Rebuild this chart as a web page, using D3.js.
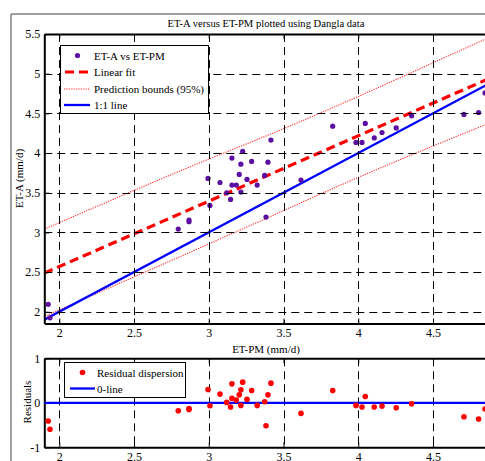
<!DOCTYPE html>
<html>
<head>
<meta charset="utf-8">
<script src="https://cdn.jsdelivr.net/npm/d3@7/dist/d3.min.js"></script>
<style>
  html, body { margin: 0; padding: 0; background: #fff; }
  svg { display: block; }
  text { font-family: "Liberation Serif", "Times New Roman", serif; fill: #000; }
</style>
</head>
<body>
<svg id="chart" width="485" height="461"></svg>
<script>
// Observed daily ET: Penman-Monteith estimate vs. measured (Dangla)
const etPM = [1.926, 1.938, 2.796, 2.868, 2.868, 2.995, 3.008, 3.075, 3.120, 3.146,
              3.155, 3.155, 3.184, 3.204, 3.215, 3.215, 3.227, 3.256, 3.287, 3.324,
              3.374, 3.396, 3.383, 3.416, 3.617, 3.829, 3.985, 4.025, 4.047, 4.107,
              4.159, 4.254, 4.357, 4.707, 4.805, 4.848];
const etA  = [2.093, 1.924, 3.042, 3.155, 3.134, 3.680, 3.340, 3.629, 3.499, 3.416,
              3.936, 3.596, 3.596, 3.730, 3.860, 3.508, 4.020, 3.668, 3.894, 3.596,
              3.718, 3.885, 3.193, 4.163, 3.659, 4.339, 4.134, 4.134, 4.373, 4.191,
              4.259, 4.317, 4.469, 4.486, 4.511, 4.758];
const residuals = [-0.410, -0.596, -0.179, -0.130, -0.150, 0.300, -0.067, 0.195, 0.009, -0.096,
                   0.426, 0.099, 0.061, 0.179, 0.291, -0.058, 0.464, 0.076, 0.278, -0.058,
                   0.022, 0.179, -0.516, 0.442, -0.238, 0.278, -0.058, -0.096, 0.143, -0.096,
                   -0.074, -0.112, -0.022, -0.314, -0.365, -0.141];

// Fitted line, 95% prediction bounds and the 1:1 reference, as [ET-PM, ET-A] pairs
const fitLine    = [[1.9, 2.487], [4.9, 4.959]];
const upperBound = [[1.9, 3.040], [2.874, 3.826], [3.476, 4.288], [4.9, 5.480]];
const lowerBound = [[1.9, 1.942], [3.209, 3.029], [4.0, 3.693], [4.9, 4.395]];
const oneToOne   = [[1.9, 1.9], [4.9, 4.9]];
const zeroLine   = [[1.9, 0], [4.9, 0]];

// Ticks
const xTicks = [2, 2.5, 3, 3.5, 4, 4.5];
const yTicks = [2, 2.5, 3, 3.5, 4, 4.5, 5, 5.5];
const rTicks = [-1, 0, 1];

const title = "ET-A versus ET-PM plotted using Dangla data";
const xLabel = "ET-PM (mm/d)";
const yLabel = "ET-A (mm/d)";
const rLabel = "Residuals";
const legendMain = ["ET-A vs ET-PM", "Linear fit", "Prediction bounds (95%)", "1:1 line"];
const legendRes = ["Residual dispersion", "0-line"];

const svg = d3.select("#chart");
const fmt = d => String(d);

// figure frame
svg.append("line").attr("x1", 11).attr("x2", 485).attr("y1", 14).attr("y2", 14)
  .attr("stroke", "#808080").attr("stroke-width", 1.5);
svg.append("line").attr("x1", 11).attr("x2", 11).attr("y1", 14).attr("y2", 461)
  .attr("stroke", "#808080").attr("stroke-width", 1.5);

const x = d3.scaleLinear().domain([1.9, 4.9]).range([44.3, 492.8]);
const y = d3.scaleLinear().domain([1.852, 5.5]).range([323.5, 34]);
const yr = d3.scaleLinear().domain([-1, 1]).range([447.3, 358.3]);

const purple = "#5c0fa3";

function panel(g, ys, yt, xt, id, hGrid) {
  const [x0, x1] = x.range();
  const [yb, ytp] = ys.range();
  g.append("clipPath").attr("id", id).append("rect")
    .attr("x", x0).attr("y", ytp).attr("width", x1 - x0).attr("height", yb - ytp);
  // dashed grid
  const grid = g.append("g").attr("stroke", "#000").attr("stroke-width", 1)
    .attr("stroke-dasharray", "8,5");
  grid.selectAll("line.v").data(xt).enter().append("line")
    .attr("x1", d => Math.round(x(d)) + 0.5).attr("x2", d => Math.round(x(d)) + 0.5)
    .attr("y1", ytp).attr("y2", yb);
  if (hGrid) {
    grid.selectAll("line.h").data(yt).enter().append("line")
      .attr("y1", d => Math.round(ys(d)) + 0.5).attr("y2", d => Math.round(ys(d)) + 0.5)
      .attr("x1", x0).attr("x2", x1);
  }
  const add = (ax, tr) => {
    const a = g.append("g").attr("transform", tr).call(ax);
    a.select(".domain").attr("stroke", "#000").attr("stroke-width", 2);
    a.selectAll(".tick line").attr("stroke", "#000").attr("stroke-width", 1);
    a.selectAll("text").style("font-family", '"Liberation Serif", serif').style("font-size", "12px");
    return a;
  };
  // axes with inward ticks on all four sides
  add(d3.axisBottom(x).tickValues(xt).tickFormat(fmt).tickSizeInner(-5).tickSizeOuter(0).tickPadding(5), `translate(0,${yb})`);
  add(d3.axisTop(x).tickValues(xt).tickFormat("").tickSizeInner(-5).tickSizeOuter(0), `translate(0,${ytp})`);
  add(d3.axisLeft(ys).tickValues(yt).tickFormat(fmt).tickSizeInner(-5).tickSizeOuter(0).tickPadding(4), `translate(${x0},0)`);
  add(d3.axisRight(ys).tickValues(yt).tickFormat("").tickSizeInner(-5).tickSizeOuter(0), `translate(${x1},0)`);
}

// ---------- main scatter panel ----------
const gm = svg.append("g");
const line = d3.line().x(d => x(d[0])).y(d => y(d[1]));
gm.append("clipPath").attr("id", "clipMain").append("rect")
  .attr("x", x.range()[0]).attr("y", 34).attr("width", x.range()[1] - x.range()[0]).attr("height", 289.5);

// grid drawn first, then data, then the axes on top
const gmGrid = gm.append("g");
const lines = gm.append("g").attr("clip-path", "url(#clipMain)");
const gmAxes = gm.append("g");
panel(gmAxes, y, yTicks, xTicks, "clipMainAxes", true);

lines.append("path").datum(upperBound).attr("d", line.curve(d3.curveMonotoneX))
  .attr("fill", "none").attr("stroke", "#ff2a2a").attr("stroke-width", 1.1).attr("stroke-dasharray", "1.2,1.2");
lines.append("path").datum(lowerBound).attr("d", line.curve(d3.curveMonotoneX))
  .attr("fill", "none").attr("stroke", "#ff2a2a").attr("stroke-width", 1.1).attr("stroke-dasharray", "1.2,1.2");
lines.append("path").datum(fitLine).attr("d", line.curve(d3.curveLinear))
  .attr("fill", "none").attr("stroke", "#ff0000").attr("stroke-width", 3.2).attr("stroke-dasharray", "9,5");
lines.append("path").datum(oneToOne).attr("d", line.curve(d3.curveLinear))
  .attr("fill", "none").attr("stroke", "#0000ff").attr("stroke-width", 2.3);
lines.selectAll("circle").data(etPM).enter().append("circle")
  .attr("cx", d => x(d)).attr("cy", (d, i) => y(etA[i])).attr("r", 2.6)
  .attr("fill", purple);

svg.append("text").attr("x", 266).attr("y", 27).attr("text-anchor", "middle")
  .style("font-size", "10.6px").text(title);
svg.append("text").attr("x", 266).attr("y", 352.5).attr("text-anchor", "middle")
  .style("font-size", "11px").text(xLabel);
svg.append("text").attr("transform", "translate(23,178.5) rotate(-90)").attr("text-anchor", "middle")
  .style("font-size", "11px").text(yLabel);

// main legend
const lg = svg.append("g");
lg.append("rect").attr("x", 60.5).attr("y", 45.5).attr("width", 148).attr("height", 68)
  .attr("fill", "#fff").attr("stroke", "#000").attr("stroke-width", 1);
const rowY = [55.5, 72, 89, 105];
lg.append("circle").attr("cx", 77.5).attr("cy", rowY[0]).attr("r", 2.6).attr("fill", purple);
lg.append("line").attr("x1", 64).attr("x2", 90).attr("y1", rowY[1]).attr("y2", rowY[1])
  .attr("stroke", "#ff0000").attr("stroke-width", 3.2).attr("stroke-dasharray", "9,5").attr("stroke-dashoffset", -1);
lg.append("line").attr("x1", 64).attr("x2", 90).attr("y1", rowY[2]).attr("y2", rowY[2])
  .attr("stroke", "#ff2a2a").attr("stroke-width", 1.1).attr("stroke-dasharray", "1.2,1.2");
lg.append("line").attr("x1", 64).attr("x2", 90).attr("y1", rowY[3]).attr("y2", rowY[3])
  .attr("stroke", "#0000ff").attr("stroke-width", 2.3);
lg.selectAll("text").data(legendMain).enter().append("text")
  .attr("x", 94).attr("y", (d, i) => rowY[i] + 4).style("font-size", "11px").text(d => d);

// ---------- residual panel ----------
const gr = svg.append("g");
gr.append("clipPath").attr("id", "clipRes").append("rect")
  .attr("x", x.range()[0]).attr("y", 358.3).attr("width", x.range()[1] - x.range()[0]).attr("height", 89);
const grAxes = gr.append("g");
panel(grAxes, yr, rTicks, xTicks, "clipResAxes", false);
const lineR = d3.line().x(d => x(d[0])).y(d => yr(d[1]));
const rl = gr.append("g").attr("clip-path", "url(#clipRes)");
rl.append("path").datum(zeroLine).attr("d", lineR)
  .attr("fill", "none").attr("stroke", "#0000ff").attr("stroke-width", 2.3);
rl.selectAll("circle").data(etPM).enter().append("circle")
  .attr("cx", d => x(d)).attr("cy", (d, i) => yr(residuals[i])).attr("r", 2.8)
  .attr("fill", "#ff0000");

svg.append("text").attr("transform", "translate(31,402) rotate(-90)").attr("text-anchor", "middle")
  .style("font-size", "11px").text(rLabel);

// residual legend
const rlg = svg.append("g");
rlg.append("rect").attr("x", 64.5).attr("y", 362.5).attr("width", 121).attr("height", 35)
  .attr("fill", "#fff").attr("stroke", "#000").attr("stroke-width", 1);
rlg.append("circle").attr("cx", 82.5).attr("cy", 372.5).attr("r", 2.8).attr("fill", "#ff0000");
rlg.append("line").attr("x1", 70).attr("x2", 95).attr("y1", 388.5).attr("y2", 388.5)
  .attr("stroke", "#0000ff").attr("stroke-width", 2.3);
rlg.selectAll("text").data(legendRes).enter().append("text")
  .attr("x", 97).attr("y", (d, i) => [376.5, 392.5][i]).style("font-size", "11px").text(d => d);
</script>
</body>
</html>
